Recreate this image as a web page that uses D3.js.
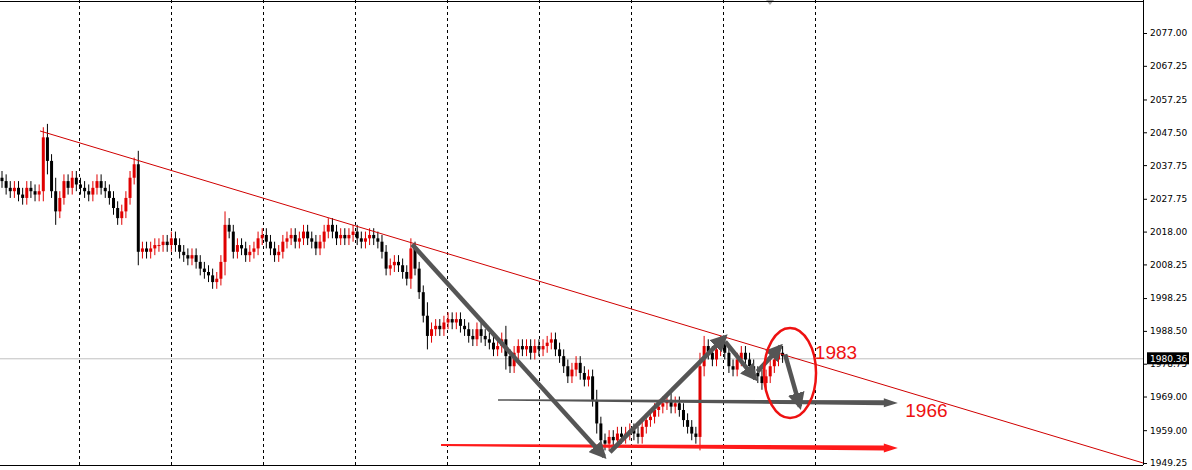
<!DOCTYPE html>
<html>
<head>
<meta charset="utf-8">
<script src="https://cdn.jsdelivr.net/npm/d3@7"></script>
<style>
  body { margin: 0; background: #fff; }
  svg { display: block; font-family: "Liberation Sans", Arial, sans-serif; }
</style>
</head>
<body>
<div id="chart"></div>
<script>
// closes per bar (open = previous close)
const closes = [
  2033, 2031, 2030, 2031, 2029, 2028, 2031, 2030, 2029, 2030,
  2046, 2039, 2030, 2024, 2028, 2033, 2031, 2034, 2032, 2031,
  2030, 2029, 2031, 2033, 2031, 2030, 2028, 2025, 2022, 2024,
  2028, 2034, 2038, 2012, 2013, 2012, 2013, 2014, 2014, 2015,
  2014, 2016, 2014, 2012, 2011, 2010, 2011, 2009, 2007, 2006,
  2005, 2003, 2004, 2009, 2020, 2018, 2012, 2014, 2013, 2011,
  2012, 2013, 2016, 2017, 2015, 2013, 2011, 2012, 2015, 2016,
  2017, 2015, 2016, 2018, 2016, 2015, 2013, 2015, 2018, 2020,
  2018, 2016, 2017, 2016, 2017, 2018, 2016, 2015, 2016, 2017,
  2016, 2015, 2012, 2007, 2008, 2009, 2008, 2006, 2004, 2013,
  2007, 2000, 1993, 1987, 1989, 1990, 1989, 1991, 1992, 1991,
  1992, 1990, 1989, 1987, 1986, 1989, 1987, 1986, 1985, 1983,
  1984, 1986, 1981, 1978, 1982, 1984, 1983, 1984, 1982, 1984,
  1983, 1984, 1985, 1986, 1983, 1981, 1978, 1975, 1977, 1979,
  1976, 1974, 1975, 1968, 1961, 1956, 1955, 1957, 1956, 1958,
  1957, 1958, 1959, 1958, 1957, 1960, 1962, 1963, 1965, 1966,
  1967, 1968, 1966, 1967, 1965, 1962, 1960, 1958, 1957, 1978,
  1984, 1982, 1980, 1983, 1985, 1982, 1978, 1977, 1980, 1982,
  1980, 1978, 1976, 1975, 1973, 1975, 1978, 1980, 1982, 1981
];
const firstOpen = 2034;
// wick length per bar beyond the body (default small)
const wickDefault = 2;
const wickExtra = { 10: 3, 11: 4, 13: 4, 33: 4, 54: 4, 99: 3, 103: 4, 122: 4, 144: 3, 169: 4, 170: 3 };

const yTicks = [2077.00, 2067.25, 2057.25, 2047.50, 2037.75, 2027.75, 2018.00, 2008.25,
  1998.25, 1988.50, 1978.75, 1969.00, 1959.00, 1949.25];
const lastPrice = 1980.36;

// annotations in (bar index, price)
const trendLine = [[9.2, 2047.9], [276.3, 1949.25]];
const grayArrows = [
  [[99.3, 2014.2], [145.8, 1951.2]],
  [[147.2, 1952.5], [175.1, 1986.8]],
  [[175.1, 1985.3], [182.4, 1974.3]],
  [[182.9, 1976.4], [188.5, 1983.9]],
  [[189.6, 1981.5], [193.2, 1966.0]]
];
const grayFlat = [[120.1, 1968.0], [216.9, 1967.1]];
const redFlat = [[106.3, 1954.6], [216.9, 1953.7]];
const notes = [{ t: "1983", i: 196.8, p: 1980.2 }, { t: "1966", i: 218.7, p: 1962.8 }];
const ellipse = { i: 190.8, p: 1976.0 };

const W = 1192, H = 470, plotR = 1143, plotB = 465;
const x = d3.scaleLinear().domain([0, 189]).range([2, 782.6]);
const y = d3.scaleLinear().domain([1949.25, 2077]).range([463, 33]);

const svg = d3.select("#chart").append("svg").attr("width", W).attr("height", H);

// vertical dashed grid
const gridX = d3.range(79, 820, 92);
svg.selectAll(".grid").data(gridX).join("line")
  .attr("x1", d => d + 0.5).attr("x2", d => d + 0.5).attr("y1", 0).attr("y2", plotB)
  .attr("stroke", "#000").attr("stroke-dasharray", "3,3").attr("stroke-width", 1);

// last price line
svg.append("line").attr("x1", 0).attr("x2", plotR).attr("y1", y(lastPrice) + 0.5).attr("y2", y(lastPrice) + 0.5)
  .attr("stroke", "#c0c0c0");

// candles
const bars = closes.map((c, i) => {
  const o = i === 0 ? firstOpen : closes[i - 1];
  const w = wickExtra[i] || wickDefault;
  return { i, o, c, h: Math.max(o, c) + w, l: Math.min(o, c) - w };
});
const g = svg.append("g");
g.selectAll(".wick").data(bars).join("line")
  .attr("x1", d => x(d.i)).attr("x2", d => x(d.i))
  .attr("y1", d => y(d.h)).attr("y2", d => y(d.l))
  .attr("stroke", d => d.c >= d.o ? "#e00000" : "#000");
g.selectAll(".body").data(bars).join("rect")
  .attr("x", d => x(d.i) - 1.5).attr("width", 3)
  .attr("y", d => y(Math.max(d.o, d.c)))
  .attr("height", d => Math.max(1, Math.abs(y(d.o) - y(d.c))))
  .attr("fill", d => d.c >= d.o ? "#e00000" : "#000");

// trend line
svg.append("line")
  .attr("x1", x(trendLine[0][0])).attr("y1", y(trendLine[0][1]))
  .attr("x2", x(trendLine[1][0])).attr("y2", y(trendLine[1][1]))
  .attr("stroke", "#d00000").attr("stroke-width", 1);

// tapered flat arrows
function flatArrow(seg, color, w0, w1) {
  const [x0, y0] = [x(seg[0][0]), y(seg[0][1])];
  const [x1, y1] = [x(seg[1][0]), y(seg[1][1])];
  const hx = x1 - 14;
  const yh = y0 + (y1 - y0) * (hx - x0) / (x1 - x0);
  svg.append("path")
    .attr("d", `M${x0},${y0 - w0 / 2}L${hx},${yh - w1 / 2}L${hx},${yh - w1 / 2 - 2}L${x1},${y1}L${hx},${yh + w1 / 2 + 2}L${hx},${yh + w1 / 2}L${x0},${y0 + w0 / 2}Z`)
    .attr("fill", color);
}
flatArrow(grayFlat, "#555", 1.5, 5);
flatArrow(redFlat, "#ff1a1a", 2, 5);

// gray arrows
svg.append("defs").append("marker").attr("id", "ah")
  .attr("viewBox", "0 0 10 10").attr("refX", 8).attr("refY", 5)
  .attr("markerWidth", 3.8).attr("markerHeight", 3.8).attr("orient", "auto")
  .append("path").attr("d", "M0,0L10,5L0,10Z").attr("fill", "#555");
svg.selectAll(".arr").data(grayArrows).join("line")
  .attr("x1", d => x(d[0][0])).attr("y1", d => y(d[0][1]))
  .attr("x2", d => x(d[1][0])).attr("y2", d => y(d[1][1]))
  .attr("stroke", "#555").attr("stroke-width", 4.5).attr("marker-end", "url(#ah)");

// ellipse
svg.append("ellipse").attr("cx", x(ellipse.i)).attr("cy", y(ellipse.p))
  .attr("rx", 26).attr("ry", 45).attr("fill", "none")
  .attr("stroke", "#ee1111").attr("stroke-width", 2.5);

svg.selectAll(".note").data(notes).join("text")
  .attr("x", d => x(d.i)).attr("y", d => y(d.p))
  .attr("fill", "#ee1111").attr("font-size", 19).text(d => d.t);

// top marker
svg.append("path").attr("d", "M766,0L774,0L770,5Z").attr("fill", "#aaa");

// frame
svg.append("line").attr("x1", plotR + 0.5).attr("x2", plotR + 0.5).attr("y1", 0).attr("y2", plotB).attr("stroke", "#000");
svg.append("line").attr("x1", 0).attr("x2", plotR).attr("y1", 1.5).attr("y2", 1.5).attr("stroke", "#000");
svg.append("line").attr("x1", 0).attr("x2", plotR).attr("y1", plotB + 0.5).attr("y2", plotB + 0.5).attr("stroke", "#000");

// y axis
const yAxis = svg.append("g").attr("transform", `translate(${plotR},0)`)
  .call(d3.axisRight(y).tickValues(yTicks).tickFormat(d3.format(".2f")).tickSize(4).tickPadding(3));
yAxis.select(".domain").remove();
yAxis.selectAll("text").attr("fill", "#000")
  .attr("font-family", "'DejaVu Sans', sans-serif").attr("font-size", 9);

// last price label (covers the neighbouring tick label, as in the terminal)
const lp = svg.append("g").attr("transform", `translate(${plotR + 4},${y(lastPrice)})`);
lp.append("rect").attr("x", 0).attr("y", -6).attr("width", 42).attr("height", 12).attr("fill", "#000");
lp.append("text").attr("x", 3).attr("y", 4).attr("fill", "#fff").attr("font-size", 9)
  .attr("font-family", "'DejaVu Sans', sans-serif").text(d3.format(".2f")(lastPrice));
</script>
</body>
</html>
